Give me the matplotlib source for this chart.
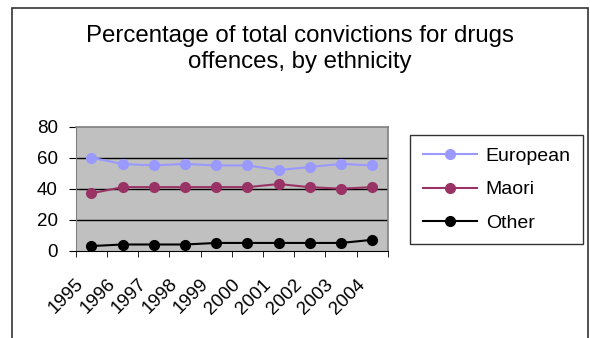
import matplotlib.pyplot as plt
import matplotlib.transforms as mtransforms
from matplotlib.patches import Rectangle
import numpy as np

plt.rcParams['font.family'] = ['Liberation Sans', 'DejaVu Sans']

# data
years = ['1995', '1996', '1997', '1998', '1999', '2000', '2001', '2002', '2003', '2004']
european = [60, 56, 55, 56, 55, 55, 52, 54, 56, 55]
maori = [37, 41, 41, 41, 41, 41, 43, 41, 40, 41]
other = [3, 4, 4, 4, 5, 5, 5, 5, 5, 7]

fig = plt.figure(figsize=(5.9, 3.38), dpi=100)

# outer chart frame (open at the bottom, as in the screenshot)
fig.patches.append(Rectangle((12 / 590, -0.1), (588 - 12) / 590, 1.1 - 8 / 338,
                             transform=fig.transFigure, fill=False,
                             edgecolor='#333333', linewidth=1.2))

fig.text(0.508, 1 - 49 / 338, 'Percentage of total convictions for drugs\noffences, by ethnicity',
         ha='center', va='center', fontsize=17.3, linespacing=1.22)

ax = fig.add_axes([75.7 / 590, 1 - 250.7 / 338, 312 / 590, 124 / 338])
ax.set_facecolor('#C0C0C0')

x = np.arange(len(years))
ax.plot(x, european, color='#9999FF', marker='o', markersize=7, linewidth=1.5, label='European')
ax.plot(x, maori, color='#993366', marker='o', markersize=7, linewidth=1.5, label='Maori')
ax.plot(x, other, color='black', marker='o', markersize=7, linewidth=1.5, label='Other')

ax.set_xlim(-0.5, len(years) - 0.5)
ax.set_ylim(0, 80)
ax.set_yticks([0, 20, 40, 60, 80])
for v in [20, 40, 60]:
    ax.axhline(v, color='black', linewidth=1, zorder=1)

ax.set_xticks(x)
ax.set_xticklabels(years, rotation=45, ha='right', va='top', rotation_mode='anchor', fontsize=13.5)
ax.set_xticks(np.arange(-0.5, len(years)), minor=True)
ax.tick_params(axis='x', which='major', length=0, pad=18)
ax.tick_params(axis='x', which='minor', length=4, direction='out', color='black')
ax.tick_params(axis='y', length=5, direction='out', labelsize=13.5, pad=8)
offset = mtransforms.ScaledTranslation(-16 / 100, 0, fig.dpi_scale_trans)
for lbl in ax.get_xticklabels():
    lbl.set_transform(lbl.get_transform() + offset)

for side in ['top', 'right']:
    ax.spines[side].set_color('#808080')
    ax.spines[side].set_linewidth(1.2)
ax.spines['left'].set_color('#808080')
ax.spines['bottom'].set_color('black')

leg = fig.legend(loc='upper left', bbox_to_anchor=(410 / 590, 1 - 135 / 338),
                 fontsize=14, frameon=True, fancybox=False, edgecolor='black',
                 borderaxespad=0, handlelength=2.8, borderpad=0.65,
                 labelspacing=0.8, handletextpad=0.45)
leg.get_frame().set_linewidth(1)

fig.savefig('out.png', dpi=100)
